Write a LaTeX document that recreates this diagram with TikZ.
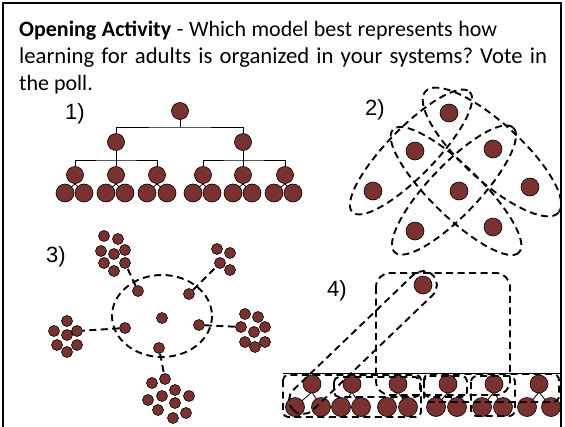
\documentclass[tikz,border=0pt]{standalone}
\usepackage{fontspec}
\setmainfont{Carlito}
\newfontfamily\labfont{Liberation Sans}
\definecolor{nodecol}{RGB}{121,50,47}
\frenchspacing
\tikzset{
 pdot/.style={circle,draw=black,line width=0.6pt,fill=nodecol,inner sep=0pt,minimum size=#1},
 pdot/.default=17,
 dsh/.style={draw=black,line width=1.9pt,dash pattern=on 7pt off 4.5pt},
 conn/.style={draw=black,line width=0.8pt},
 ttl/.style={anchor=base west,inner sep=0pt,font=\fontsize{22}{27}\selectfont},
 lab/.style={inner sep=0pt,font=\labfont\fontsize{22}{26}\selectfont},
}
\begin{document}
\begin{tikzpicture}[x=1pt,y=-1pt]
\useasboundingbox (0,0) rectangle (565,426);
\fill[white] (0,0) rectangle (565,426);
% frame
\draw[line width=2.2pt] (3,440) -- (3,3) -- (561,3) -- (561,440);
% title
\node[ttl] (ttl1) at (19,36) {\makebox[478pt][s]{\textbf{Opening Activity} - Which model best represents how}};
\node[ttl, font=\fontsize{22.7}{27}\selectfont] (ttl2) at (19,63) {\makebox[528pt][s]{learning for adults is organized in your systems? Vote in}};
\node[ttl] (ttl3) at (19,90) {the poll.};
% labels
\node[lab] (lab1) at (75,114) {1)};
\node[lab] (lab2) at (375,110) {2)};
\node[lab] (lab3) at (56,257) {3)};
\node[lab] (lab4) at (337,291) {4)};

% ---------- Panel 1 ----------
\node[pdot] (r) at (180,111) {};
\node[pdot] (a1) at (116,142) {};
\node[pdot] (a2) at (243,142) {};
\foreach \x [count=\i] in {75,116,157,203,243,285}
  \node[pdot] (b\i) at (\x,175) {};
\coordinate (j0) at (180,127);
\coordinate (j1) at (116,160);
\coordinate (j2) at (243,160);
\draw[conn] (r) -- (j0);
\draw[conn] (a1) |- (j0) -| (a2);
\draw[conn] (b1) |- (j1) -| (b3);
\draw[conn] (a1) -- (b2);
\draw[conn] (b4) |- (j2) -| (b6);
\draw[conn] (a2) -- (b5);
\foreach \p/\l/\rr in {1/65/84,2/106/125,3/147/167,4/193/212,5/233/252,6/274/293}{
  \draw[conn] (\l,193) -- (b\p.south) -- (\rr,193);
}
\foreach \x [count=\i] in {65,84,106,125,147,167,193,212,233,252,274,293}
  \node[pdot=18] (c\i) at (\x,193) {};

% ---------- Panel 2 ----------
\node[pdot=18] (n1) at (449,113) {};
\node[pdot=18] (n2) at (415,151) {};
\node[pdot=18] (n3) at (493,149) {};
\node[pdot=18] (n4) at (373,191) {};
\node[pdot=18] (n5) at (459,191) {};
\node[pdot=18] (n6) at (530,187) {};
\node[pdot=18] (n7) at (415,231) {};
\node[pdot=18] (n8) at (493,227) {};
\draw[dsh, rotate around={45.7:(411,152)}] (411,152) ellipse [x radius=84, y radius=24];
\draw[dsh, rotate around={-42.4:(492,152)}] (492,152) ellipse [x radius=90, y radius=29];
\draw[dsh, rotate around={-44.3:(456,191)}] (456,191) ellipse [x radius=88, y radius=25];
\draw[dsh, rotate around={46.4:(454,190)}] (454,190) ellipse [x radius=86, y radius=25];

% ---------- Panel 3 ----------
\draw[dsh] (162,316) ellipse [x radius=50, y radius=41];
\node[pdot=11] (i1) at (138,291) {};
\node[pdot=11] (i2) at (189,294) {};
\node[pdot=11] (i3) at (162,318) {};
\node[pdot=11] (i4) at (125,328) {};
\node[pdot=11] (i5) at (199,325) {};
\node[pdot=11] (i6) at (159,348) {};
\foreach \p [count=\i] in {(104,236),(118,239),(101,251),(114,254),(125,250),(104,263),(125,263),(114,271)}
  \node[pdot=11] (tl\i) at \p {};
\foreach \p [count=\i] in {(217,249),(230,253),(220,263),(230,270)}
  \node[pdot=11] (tr\i) at \p {};
\foreach \p [count=\i] in {(67,321),(54,331),(67,335),(77,331),(57,345),(77,345),(67,352)}
  \node[pdot=11] (lc\i) at \p {};
\foreach \p [count=\i] in {(245,314),(258,317),(241,327),(254,332),(265,327),(245,342),(255,347),(265,342)}
  \node[pdot=11] (rc\i) at \p {};
\foreach \p [count=\i] in {(165,379),(152,383),(175,390),(162,396),(189,396),(148,400),(175,403),(158,410),(186,413),(173,418)}
  \node[pdot=11] (bc\i) at \p {};
\draw[dsh] (i1) -- (tl7);
\draw[dsh] (i2) -- (tr3);
\draw[dsh] (i4) -- (lc4);
\draw[dsh] (i5) -- (rc3);
\draw[dsh] (i6) -- (bc1);

% ---------- Panel 4 ----------
\coordinate (bl) at (283,373);
\coordinate (br) at (560,373);
\draw[conn] (bl) -- (br);
\foreach \x [count=\i] in {312,352,398,448,494,539}
  \coordinate (mt\i) at (\x,373);
\foreach \x/\l/\rr [count=\i] in {312/295/321,352/341/361,398/387/408,448/436/457,494/482/503,539/527/551}{
  \draw[conn] (\l,407) -- (\x,392) -- (\rr,407);
  \draw[conn] (mt\i) -- (\x,384);
}
\foreach \x [count=\i] in {312,352,398,448,494,539}
  \node[pdot=18] (m\i) at (\x,384) {};
\foreach \x [count=\i] in {295,321,341,361,387,408,436,457,482,503,527,551}
  \node[pdot=19] (k\i) at (\x,407) {};
\node[pdot=18] (t) at (423,285) {};
% dashed groupings
\draw[dsh, rounded corners=14] (376,273) rectangle (510,395);
\draw[dsh, rounded corners=14, shift={(363,342.5)}, rotate=43.8] (-97,-14) rectangle (97,14);
\draw[dsh, rounded corners=5] (283,375) rectangle (421,417);
\draw[dsh, rounded corners=5] (334,377) rectangle (420,397);
\draw[dsh, rounded corners=5] (424,376) rectangle (467,397);
\draw[dsh, rounded corners=6] (471,376) rectangle (515,416);
\draw[dsh, rounded corners=6] (424,374) rectangle (559,402);
\end{tikzpicture}
\end{document}
